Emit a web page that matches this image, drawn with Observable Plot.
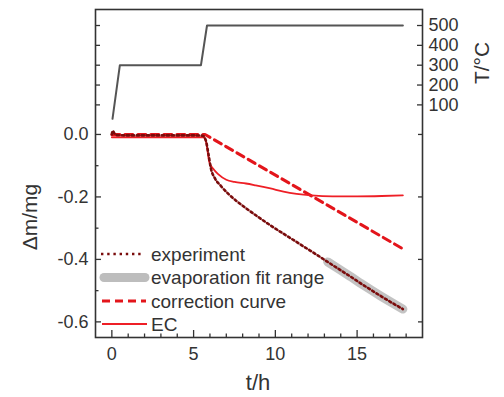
<!DOCTYPE html>
<html><head><meta charset="utf-8">
<script src="https://cdn.jsdelivr.net/npm/d3@7"></script>
<script src="https://cdn.jsdelivr.net/npm/@observablehq/plot@0.6"></script>
<style>
body{margin:0;background:#fff}
svg{font-family:"Liberation Sans",Arial,Helvetica,sans-serif}
</style>
</head><body><div id="chart"></div>
<script>
// ---- data ----
const tempTime  = [0.04, 0.49, 5.45, 5.82, 17.8];
const tempValue = [30, 300, 300, 500, 500];

const expTime = [0, 0.05, 0.15, 0.3, 1, 2, 3, 4, 5, 5.55, 5.75, 5.9, 6.06, 6.3, 6.67, 7.18, 7.6, 8.2, 9.0, 9.73, 10.5, 11.2, 11.77, 12.5, 13.2, 14.0, 14.6, 15.2, 15.86, 16.5, 17.2, 17.8];
const expMass = [0.0, 0.012, 0.004, -0.002, -0.003, -0.003, -0.003, -0.003, -0.003, -0.004, -0.02, -0.06, -0.109, -0.14, -0.165, -0.193, -0.212, -0.236, -0.266, -0.292, -0.318, -0.341, -0.36, -0.384, -0.408, -0.435, -0.455, -0.476, -0.498, -0.519, -0.541, -0.559];

const ecTime = [0, 1, 2, 3, 4, 5, 5.6, 5.76, 5.96, 6.2, 6.5, 7.0, 7.5, 8.2, 8.8, 9.7, 10.5, 11.3, 12.2, 13.5, 15.0, 16.5, 17.8];
const ecMass = [-0.009, -0.009, -0.009, -0.009, -0.009, -0.009, -0.009, -0.023, -0.088, -0.11, -0.127, -0.145, -0.152, -0.157, -0.163, -0.173, -0.183, -0.19, -0.195, -0.198, -0.198, -0.197, -0.195];

const corrTime = [0, 5.7, 17.8];
const corrMass = [0, 0, -0.366];

const fitStart = 13.1;

const xMajor = [0, 5, 10, 15];
const xMinor = [1, 2, 3, 4, 6, 7, 8, 9, 11, 12, 13, 14, 16, 17, 18];
const yMajor = [0, -0.2, -0.4, -0.6];
const yMinor = [-0.1, -0.3, -0.5];
const tTicks = [100, 200, 300, 400, 500];

const legendLabels = ["experiment", "evaporation fit range", "correction curve", "EC"];

// temperature -> position on the mass axis (right axis scale)
const tA = 0.0311, tB = 0.0006353;
const toMass = T => tA + T * tB;
const toTemp = m => (m - tA) / tB;

// ---- tables ----
const temp = tempTime.map((t, i) => ({t, v: toMass(tempValue[i])}));
const exp = expTime.map((t, i) => ({t, v: expMass[i]}));
const fit = exp.filter(d => d.t >= fitStart);
const ec = ecTime.map((t, i) => ({t, v: ecMass[i]}));
const corr = corrTime.map((t, i) => ({t, v: corrMass[i]}));

const C = {
  exp: "#7a0c0c", fit: "#bdbdbd", corr: "#e3151b", ec: "#ee1f26", temp: "#555555", ink: "#333333"
};

// inward tick helpers (tick drawn outward by Plot, shifted back inside by its length)
const tickB = (vals, len) => Plot.axisX(vals, {anchor: "bottom", tickSize: len, dy: -len, tickFormat: () => "", label: null, strokeWidth: 1.3});
const tickL = (vals, len) => Plot.axisY(vals, {anchor: "left", tickSize: len, dx: len, tickFormat: () => "", label: null, strokeWidth: 1.3});
const tickR = (vals, len) => Plot.axisY(vals, {anchor: "right", tickSize: len, dx: -len, tickFormat: () => "", label: null, strokeWidth: 1.3});

const plot = Plot.plot({
  width: 504, height: 397,
  marginLeft: 95, marginRight: 82, marginTop: 9, marginBottom: 60,
  x: {domain: [-1, 19]},
  y: {domain: [-0.65, 0.40]},
  style: {fontFamily: '"Liberation Sans",Arial,sans-serif', color: C.ink, background: "#fff"},
  marks: [
    // bottom axis
    Plot.axisX(xMajor, {anchor: "bottom", tickSize: 0, tickPadding: 10, fontSize: 18, label: null, tickFormat: d => String(d)}),
    tickB(xMajor, 7),
    tickB(xMinor, 3.5),
    // left axis
    Plot.axisY(yMajor, {anchor: "left", tickSize: 0, tickPadding: 7, fontSize: 18, label: null, tickFormat: d => d.toFixed(1)}),
    tickL(yMajor, 6),
    tickL(yMinor, 3.5),
    tickL(tTicks.map(toMass), 5),
    // right axis (temperature)
    Plot.axisY(tTicks.map(toMass), {anchor: "right", tickSize: 0, tickPadding: 6, fontSize: 18, label: null, tickFormat: d => String(Math.round(toTemp(d)))}),
    tickR(tTicks.map(toMass), 6),
    tickR(yMajor, 5),
    // data
    Plot.line(temp, {x: "t", y: "v", stroke: C.temp, strokeWidth: 2}),
    Plot.line(fit, {x: "t", y: "v", stroke: C.fit, strokeWidth: 9, strokeLinecap: "round", strokeOpacity: 0.9}),
    Plot.line(corr, {x: "t", y: "v", stroke: C.corr, strokeWidth: 3, strokeDasharray: "8 5"}),
    Plot.line(ec, {x: "t", y: "v", stroke: C.ec, strokeWidth: 1.8, curve: "monotone-x"}),
    Plot.line(exp, {x: "t", y: "v", stroke: C.exp, strokeWidth: 2.6, strokeDasharray: "2.2 2.8", curve: "monotone-x"}),
    Plot.frame({stroke: C.ink, strokeWidth: 1.6})
  ]
});

document.getElementById("chart").appendChild(plot);

// ---- axis titles and in-plot legend ----
const svg = d3.select(plot);
svg.append("text").attr("transform", "translate(30,217) rotate(-90)")
  .attr("text-anchor", "middle").attr("dy", "0.35em").attr("font-size", 21).attr("fill", C.ink).text("Δm/mg");
svg.append("text").attr("x", 258).attr("y", 390)
  .attr("text-anchor", "middle").attr("font-size", 22).attr("fill", C.ink).text("t/h");
svg.append("text").attr("transform", "translate(482,63) rotate(-90)")
  .attr("text-anchor", "middle").attr("dy", "0.35em").attr("font-size", 21).attr("fill", C.ink).text("T/°C");

const lg = svg.append("g").attr("class", "legend").attr("text-anchor", "start");
const rows = [254, 277.5, 301, 324];
const styles = [
  {stroke: C.exp, w: 2.6, dash: "2.4 3.8", cap: "butt", x1: 101, x2: 144},
  {stroke: C.fit, w: 9, dash: null, cap: "round", x1: 104, x2: 145},
  {stroke: C.corr, w: 3, dash: "8 5", cap: "butt", x1: 102, x2: 146},
  {stroke: C.ec, w: 1.8, dash: null, cap: "butt", x1: 102, x2: 147}
];
legendLabels.forEach((lab, i) => {
  const s = styles[i];
  lg.append("line").attr("x1", s.x1).attr("x2", s.x2).attr("y1", rows[i]).attr("y2", rows[i])
    .attr("stroke", s.stroke).attr("stroke-width", s.w).attr("stroke-linecap", s.cap)
    .attr("stroke-dasharray", s.dash);
  lg.append("text").attr("x", 151).attr("y", rows[i]).attr("dy", "0.35em")
    .attr("text-anchor", "start").attr("font-size", 19).attr("fill", C.ink).text(lab);
});
</script>
</body></html>
